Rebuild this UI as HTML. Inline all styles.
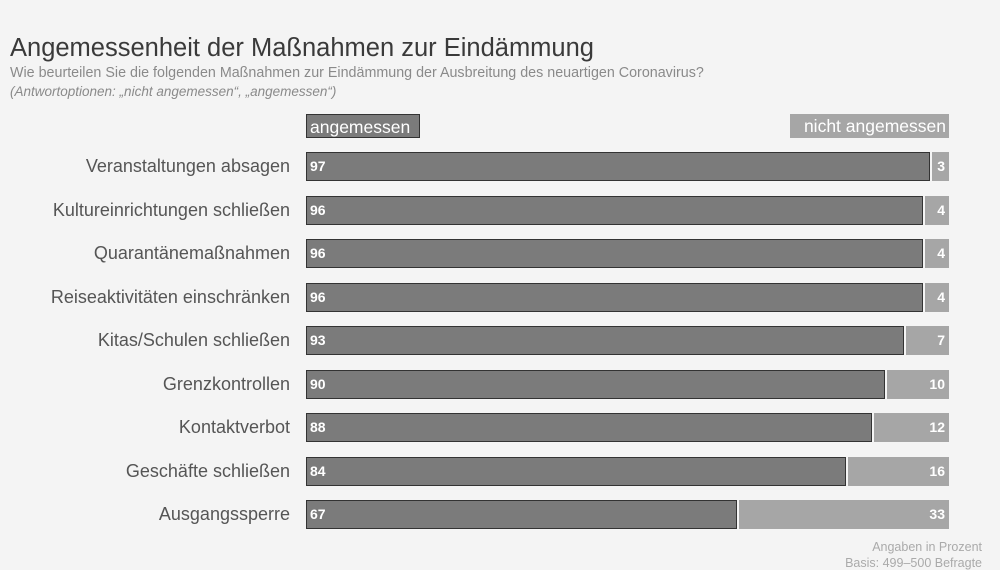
<!DOCTYPE html>
<html><head><meta charset="utf-8"><style>
body{margin:0;width:1000px;height:562px;background:#f4f4f4;font-family:"Liberation Sans",sans-serif;position:relative;overflow:hidden}
.a{position:absolute}
.t{left:10px;top:34px;font-size:25.5px;color:#3a3a3a}
.s{left:10px;top:65px;font-size:14.3px;color:#8a8a8a}
.s2{left:10px;top:84px;font-size:13.5px;color:#8a8a8a;font-style:italic}
.lab{right:710px;font-size:18px;color:#555;text-align:right;white-space:nowrap}
.d{background:#7b7b7b;border:1px solid #333;box-sizing:border-box;height:29px;color:#fff;font-weight:bold;font-size:14px;line-height:27px;padding-left:3px}
.l{background:#a6a6a6;box-sizing:border-box;height:29px;color:#fff;font-weight:bold;font-size:14px;line-height:29px;text-align:right;padding-right:4px}
.leg{color:#fff;font-size:17.5px;height:24px;line-height:24px;padding:0 3px;box-sizing:border-box;white-space:nowrap}
</style></head><body>
<div class="a t">Angemessenheit der Maßnahmen zur Eindämmung</div>
<div class="a s">Wie beurteilen Sie die folgenden Maßnahmen zur Eindämmung der Ausbreitung des neuartigen Coronavirus?</div>
<div class="a s2">(Antwortoptionen: „nicht angemessen“, „angemessen“)</div>
<div class="a leg" style="left:306px;top:114px;width:114px;background:#7b7b7b;border:1px solid #333">angemessen</div>
<div class="a leg" style="left:790px;top:114px;width:159px;background:#a6a6a6;text-align:right">nicht angemessen</div>
<div id="c"></div>
<div class="a" style="right:18px;top:540px;font-size:12.5px;color:#aaa">Angaben in Prozent</div>
<div class="a" style="right:18px;top:556px;font-size:12.5px;color:#aaa">Basis: 499–500 Befragte</div>
<script>
var d=[["Veranstaltungen absagen",97],["Kultureinrichtungen schließen",96],["Quarantänemaßnahmen",96],["Reiseaktivitäten einschränken",96],["Kitas/Schulen schließen",93],["Grenzkontrollen",90],["Kontaktverbot",88],["Geschäfte schließen",84],["Ausgangssperre",67]];
var h="";d.forEach(function(r,i){var y=152+i*43.5;var w=Math.round(643*r[1]/100);
h+='<div class="a lab" style="top:'+(y+4)+'px">'+r[0]+'</div>';
h+='<div class="a d" style="left:306px;top:'+y+'px;width:'+w+'px">'+r[1]+'</div>';
h+='<div class="a l" style="left:'+(306+w+2)+'px;top:'+y+'px;width:'+(643-w-2)+'px">'+(100-r[1])+'</div>';});
document.getElementById("c").innerHTML=h;
</script>
</body></html>
